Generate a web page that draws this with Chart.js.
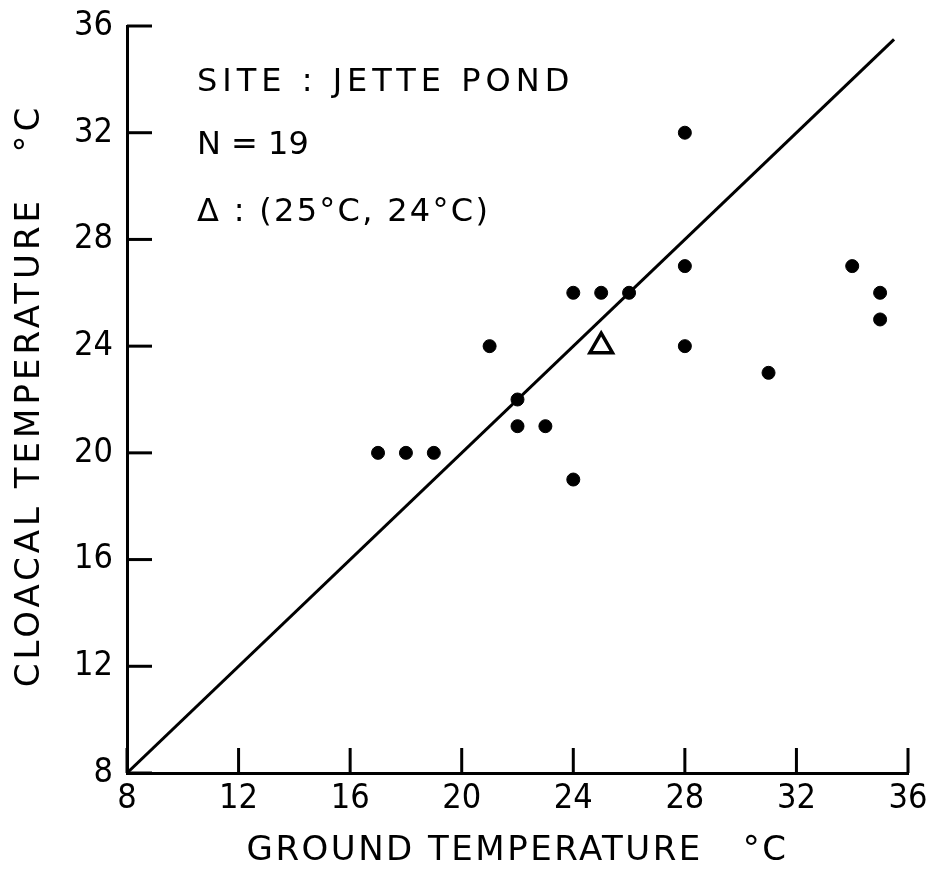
<!DOCTYPE html>
<html>
<head>
<meta charset="utf-8">
<script src="https://cdn.jsdelivr.net/npm/chart.js@4"></script>
<style>
  body { margin: 0; background: #fff; }
  #wrap { width: 938px; height: 878px; }
</style>
</head>
<body>
<div id="wrap"><canvas id="tempChart" width="938" height="878"></canvas></div>
<script>
// ground vs cloacal temperature, Jette Pond
const groundTemp  = [17, 18, 19, 21, 22, 22, 23, 24, 24, 25, 26, 28, 28, 28, 31, 34, 35, 35];
const cloacalTemp = [20, 20, 20, 24, 22, 21, 21, 26, 19, 26, 26, 32, 27, 24, 23, 27, 26, 25];
const meanPoint = [25, 24];
const lineX = [8, 35.5];
const lineY = [8, 35.5];
const tickValues = [8, 12, 16, 20, 24, 28, 32, 36];
const notes = ['SITE : JETTE POND', 'N = 19', '\u0394 : (25\u00B0C, 24\u00B0C)'];
const xTitle = 'GROUND TEMPERATURE   \u00B0C';
const yTitle = 'CLOACAL TEMPERATURE   \u00B0C';

const FONT = "'DejaVu Sans'";
const TICK_FONT = "'DejaVu Sans Condensed', 'DejaVu Sans'";

// inward ticks, notes and axis titles
const extras = {
  id: 'extras',
  afterDraw(chart) {
    const ctx = chart.ctx;
    const xs = chart.scales.x, ys = chart.scales.y;
    const a = chart.chartArea;
    ctx.save();
    ctx.strokeStyle = '#000';
    ctx.lineWidth = 3;
    tickValues.forEach(v => {
      const px = xs.getPixelForValue(v);
      ctx.beginPath();
      ctx.moveTo(px, ys.bottom);
      ctx.lineTo(px, ys.bottom - 25);
      ctx.stroke();
      const py = ys.getPixelForValue(v);
      ctx.beginPath();
      ctx.moveTo(xs.left, py);
      ctx.lineTo(xs.left + 25, py);
      ctx.stroke();
    });

    ctx.fillStyle = '#000';
    ctx.textBaseline = 'middle';
    ctx.font = '32px ' + FONT;
    const spacing = [5, 0, 2.3];
    const rowY = [57, 120, 187];
    notes.forEach((t, i) => {
      ctx.letterSpacing = spacing[i] + 'px';
      ctx.fillText(t, a.left + 70, a.top + rowY[i]);
    });

    ctx.font = '34px ' + FONT;
    ctx.textAlign = 'center';
    ctx.letterSpacing = '2.5px';
    ctx.fillText(xTitle, (a.left + a.right) / 2, 851);
    ctx.translate(30, (a.top + a.bottom) / 2 - 4);
    ctx.rotate(-Math.PI / 2);
    ctx.letterSpacing = '4px';
    ctx.fillText(yTitle, 0, 0);
    ctx.restore();
  }
};

new Chart(document.getElementById('tempChart').getContext('2d'), {
  type: 'scatter',
  data: {
    datasets: [
      {
        type: 'line',
        data: lineX.map((x, i) => ({x: x, y: lineY[i]})),
        borderColor: '#000',
        borderWidth: 3,
        pointRadius: 0,
        fill: false
      },
      {
        data: groundTemp.map((x, i) => ({x: x, y: cloacalTemp[i]})),
        backgroundColor: '#000',
        borderColor: '#000',
        pointRadius: 6.5,
        pointHoverRadius: 6.5
      },
      {
        data: [{x: meanPoint[0], y: meanPoint[1]}],
        pointStyle: 'triangle',
        backgroundColor: '#fff',
        borderColor: '#000',
        borderWidth: 3.5,
        pointRadius: 13
      }
    ]
  },
  options: {
    responsive: false,
    animation: false,
    layout: { padding: { top: 26, right: 30, left: 0, bottom: 0 } },
    plugins: { legend: { display: false }, tooltip: { enabled: false } },
    scales: {
      x: {
        type: 'linear',
        min: 8, max: 36,
        afterBuildTicks: s => { s.ticks = tickValues.map(v => ({value: v})); },
        afterFit: s => { s.height = 105; s.paddingLeft = 0; s.paddingRight = 0; },
        grid: { display: false, drawTicks: false },
        border: { display: true, color: '#000', width: 3 },
        ticks: { color: '#000', font: { family: TICK_FONT, size: 34 }, padding: 6, maxRotation: 0 }
      },
      y: {
        type: 'linear',
        min: 8, max: 36,
        afterBuildTicks: s => { s.ticks = tickValues.map(v => ({value: v})); },
        afterFit: s => { s.width = 127; s.paddingTop = 0; s.paddingBottom = 0; },
        grid: { display: false, drawTicks: false },
        border: { display: true, color: '#000', width: 3 },
        ticks: { color: '#000', font: { family: TICK_FONT, size: 34 }, padding: 14 }
      }
    }
  },
  plugins: [extras]
});
</script>
</body>
</html>
